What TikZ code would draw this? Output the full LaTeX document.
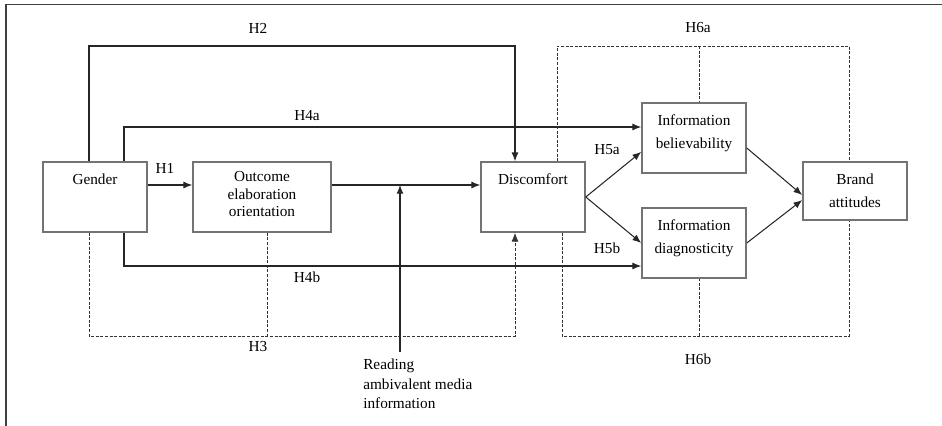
\documentclass[tikz,border=0pt]{standalone}
\usepackage{fontspec}
\setmainfont{Liberation Serif}
\usepackage{tikz}
\usetikzlibrary{arrows.meta}

\begin{document}
\begin{tikzpicture}[x=0.72pt,y=-0.72pt,
  >={Latex[length=6.3pt,width=5pt]},
  box/.style={draw=black!55,line width=1.1pt,minimum width=74.9pt,minimum height=50.4pt,inner sep=0pt},
  txt/.style={font=\fontsize{11}{16.5}\selectfont,align=center,inner sep=0pt},
  hlab/.style={font=\fontsize{11}{13}\selectfont,inner sep=0pt},
  conn/.style={line width=0.75pt,black!85},
  dline/.style={line width=0.65pt,black!80,dash pattern=on 2.2pt off 1.1pt}]
\useasboundingbox (0,0) rectangle (942,426);
\draw [line width=1.1pt,black!75] (6,426) -- (6,4.5) -- (942,4.5);

% boxes
\node [box] (gender) at (95,197) {};
\node [box,minimum width=99.4pt] (outcome) at (262,197) {};
\node [box] (disc) at (533,197) {};
\node [box] (believ) at (694,138) {};
\node [box] (diag) at (694,243) {};
\node [box,minimum height=41.8pt] (brand) at (855,191) {};

\node [txt] (gendertxt) at (95,179) {Gender};
\node [txt,font=\fontsize{11}{12.6}\selectfont] (outcometxt) at (262,194.5) {Outcome\\elaboration\\orientation};
\node [txt] (disctxt) at (533,179) {Discomfort};
\node [txt] (believtxt) at (694,133) {Information\\believability};
\node [txt] (diagtxt) at (694,238) {Information\\diagnosticity};
\node [txt] (brandtxt) at (855,190.5) {Brand\\attitudes};
\node [txt,align=left,anchor=west,font=\fontsize{11}{14}\selectfont] (reading) at (363,384) {Reading\\ambivalent media\\information};

% corner points
\coordinate (rowa) at (0,185);
\coordinate (h2l) at (89,46);
\coordinate (h2r) at (515,46);
\coordinate (h4a) at (124,127);
\coordinate (h4b) at (124,266);
\coordinate (h3l) at (89,336);
\coordinate (h3m) at (267,336);
\coordinate (h3r) at (515,336);
\coordinate (readbot) at (400,352);
\coordinate (h6tl) at (557,46);
\coordinate (h6tm) at (699,46);
\coordinate (h6tr) at (849,46);
\coordinate (h6bl) at (562,336);
\coordinate (h6bm) at (699,336);
\coordinate (h6br) at (849,336);

% solid paths
\draw [conn,->] (gender.east |- rowa) -- (outcome.west |- rowa);
\draw [conn,->] (outcome.east |- rowa) -- (disc.west |- rowa);
\draw [conn,->] (readbot) -- (readbot |- rowa);
\draw [conn,->] (gender.north -| h2l) -- (h2l) -- (h2r) -- (disc.north -| h2r);
\draw [conn,->] (gender.north -| h4a) |- (believ.west |- h4a);
\draw [conn,->] (gender.south -| h4b) |- (diag.west |- h4b);
\draw [conn,->] (disc.east) -- ([yshift=-10pt]believ.west);
\draw [conn,->] (disc.east) -- (diag.west);
\draw [conn,->] ([yshift=-7.2pt]believ.east) -- ([yshift=-2.9pt]brand.west);
\draw [conn,->] (diag.east) -- ([yshift=-6.5pt]brand.west);

% dashed paths
\draw [dline,->] (gender.south -| h3l) -- (h3l) -- (h3r) -- (disc.south -| h3r);
\draw [dline] (outcome.south -| h3m) -- (h3m);
\draw [dline] (disc.north -| h6tl) -- (h6tl) -- (h6tr) -- (brand.north -| h6tr);
\draw [dline] (h6tm) -- (believ.north -| h6tm);
\draw [dline] (disc.south -| h6bl) -- (h6bl) -- (h6br) -- (brand.south -| h6br);
\draw [dline] (h6bm) -- (diag.south -| h6bm);

% labels
\node [hlab] (lh1) at (165,168) {H1};
\node [hlab] (lh2) at (258,28) {H2};
\node [hlab] (lh3) at (258,347) {H3};
\node [hlab] (lh4a) at (307,116) {H4a};
\node [hlab] (lh4b) at (307,277) {H4b};
\node [hlab] (lh5a) at (607,150) {H5a};
\node [hlab] (lh5b) at (607,248) {H5b};
\node [hlab] (lh6a) at (698,28) {H6a};
\node [hlab] (lh6b) at (698,359) {H6b};
\end{tikzpicture}
\end{document}
